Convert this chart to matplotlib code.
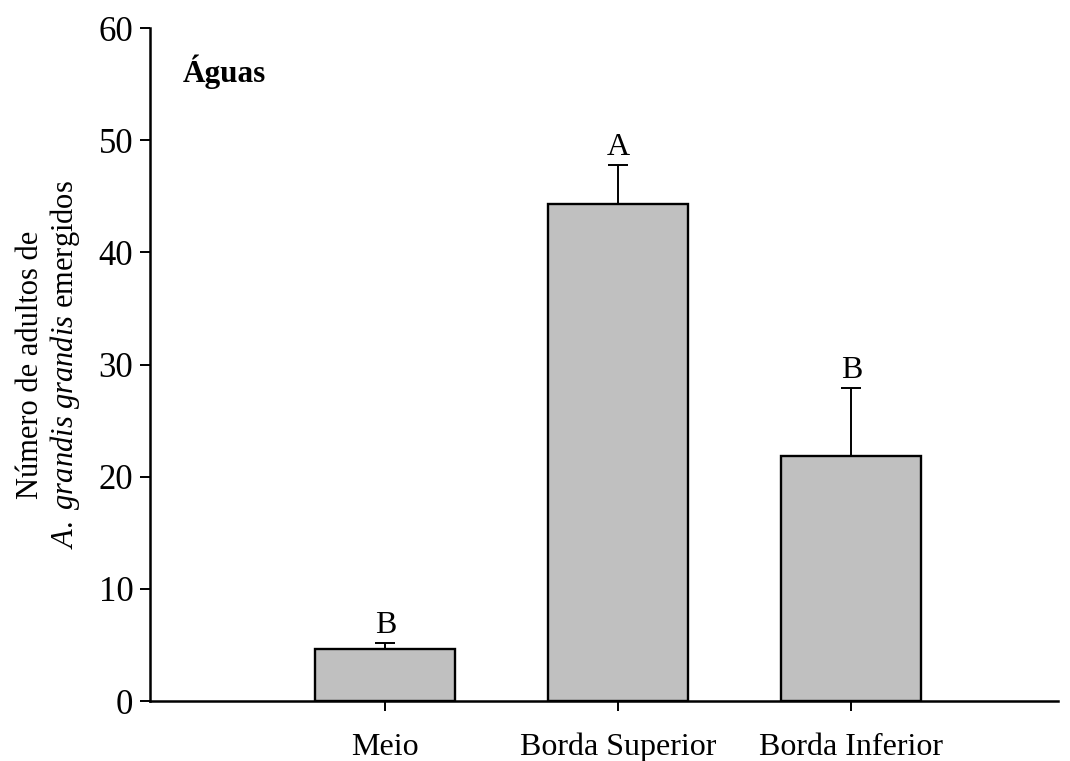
import matplotlib
matplotlib.use("Agg")
import matplotlib.pyplot as plt

plt.rcParams["font.family"] = ["Liberation Serif", "DejaVu Serif"]
plt.rcParams["mathtext.fontset"] = "custom"
plt.rcParams["mathtext.rm"] = "Liberation Serif"
plt.rcParams["mathtext.it"] = "Liberation Serif:italic"

categories = ["Meio", "Borda Superior", "Borda Inferior"]
means = [4.6, 44.3, 21.8]
errors = [0.6, 3.5, 6.1]
letters = ["B", "A", "B"]

fig = plt.figure(figsize=(10.70, 7.61), dpi=100)
ax = fig.add_axes([0.1402, 0.0788, 0.8486, 0.8844])

pos = [1, 2, 3]
ax.bar(pos, means, width=0.6, color="#c0c0c0", edgecolor="black", linewidth=1.7, zorder=2)
ax.errorbar(pos, means, yerr=[[0] * 3, errors], fmt="none", ecolor="black",
            elinewidth=1.4, capsize=7, capthick=1.4, zorder=1)

for x, m, e, lab in zip(pos, means, errors, letters):
    ax.annotate(lab, (x, m + e), xytext=(0, 2), textcoords="offset points",
                ha="center", va="bottom", fontsize=23)

ax.text(0.036, 0.935, "Águas", transform=ax.transAxes, fontsize=22.5,
        fontweight="bold", va="center", ha="left")

ax.set_xlim(-0.01, 3.887)
ax.set_ylim(0, 60)
ax.set_xticks(pos)
ax.set_xticklabels(categories, fontsize=23)
ax.set_yticks(range(0, 61, 10))
ax.tick_params(axis="y", labelsize=25, length=7, width=1.4, direction="out", pad=5)
ax.tick_params(axis="x", length=7, width=1.4, direction="out", pad=16)

for side in ["top", "right"]:
    ax.spines[side].set_visible(False)
for side in ["left", "bottom"]:
    ax.spines[side].set_linewidth(1.8)

ax.set_ylabel("Número de adultos de\n$A.\\ grandis\\ grandis$ emergidos",
              fontsize=22, labelpad=12, linespacing=1.1)

plt.savefig("out.png", dpi=100)
